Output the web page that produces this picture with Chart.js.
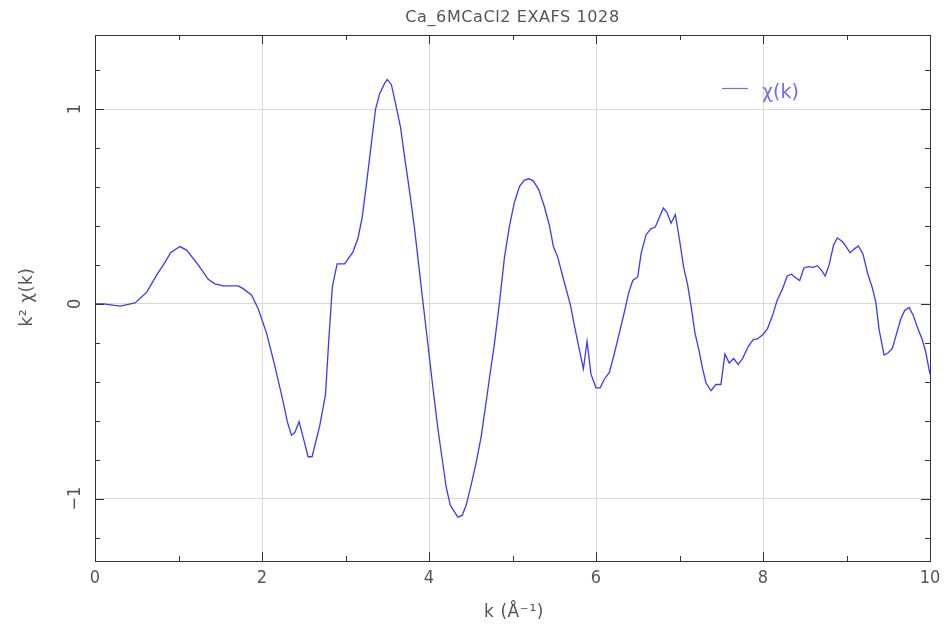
<!DOCTYPE html>
<html><head><meta charset="utf-8">
<script src="https://cdn.jsdelivr.net/npm/chart.js@4/dist/chart.umd.min.js"></script>
<style>html,body{margin:0;padding:0;background:#fff}#wrap{width:944px;height:631px}</style>
</head><body><div id="wrap"><canvas id="c" width="944" height="631"></canvas></div>
<script>
const chartTitle = "Ca_6MCaCl2 EXAFS 1028";
const xTitle = "k (Å⁻¹)";
const yTitle = "k² χ(k)";
const seriesLabel = "χ(k)";
const xTickValues = [0, 2, 4, 6, 8, 10];
const yTickValues = [-1, 0, 1];
const kValues = [0,0.1,0.3,0.48,0.62,0.74,0.84,0.905,1.017,1.097,1.236,1.356,1.435,1.535,1.714,1.774,1.874,1.954,2.054,2.153,2.253,2.305,2.353,2.393,2.444,2.5,2.552,2.6,2.691,2.76,2.80,2.843,2.90,2.99,3.09,3.15,3.20,3.25,3.31,3.36,3.41,3.47,3.50,3.55,3.60,3.66,3.708,3.768,3.828,3.88,3.93,3.99,4.047,4.107,4.16,4.207,4.255,4.305,4.346,4.397,4.446,4.506,4.566,4.626,4.685,4.725,4.785,4.845,4.904,4.964,5.024,5.084,5.144,5.196,5.251,5.315,5.383,5.443,5.49,5.542,5.60,5.65,5.694,5.742,5.793,5.849,5.893,5.94,6.0,6.05,6.10,6.16,6.22,6.28,6.34,6.39,6.44,6.50,6.54,6.60,6.66,6.71,6.76,6.806,6.85,6.898,6.95,7.0,7.05,7.097,7.137,7.185,7.237,7.277,7.317,7.377,7.437,7.496,7.544,7.596,7.648,7.703,7.755,7.823,7.883,7.934,8.0,8.054,8.114,8.17,8.23,8.29,8.34,8.39,8.44,8.49,8.545,8.60,8.65,8.70,8.744,8.79,8.845,8.89,8.95,8.99,9.043,9.09,9.143,9.198,9.25,9.31,9.35,9.39,9.45,9.50,9.55,9.597,9.65,9.697,9.75,9.80,9.85,9.908,9.948,10.0];
const chiValues = [0,0,-0.012,0.005,0.06,0.149,0.214,0.263,0.294,0.276,0.2,0.126,0.103,0.092,0.092,0.078,0.046,-0.025,-0.149,-0.317,-0.502,-0.608,-0.674,-0.661,-0.605,-0.697,-0.785,-0.785,-0.626,-0.467,-0.184,0.09,0.205,0.205,0.267,0.338,0.444,0.612,0.824,1.0,1.08,1.133,1.151,1.125,1.027,0.904,0.753,0.576,0.382,0.187,0,-0.219,-0.431,-0.643,-0.803,-0.944,-1.033,-1.068,-1.095,-1.086,-1.033,-0.927,-0.812,-0.679,-0.502,-0.378,-0.2,0.01,0.24,0.4,0.523,0.603,0.635,0.642,0.63,0.585,0.497,0.4,0.294,0.24,0.143,0.064,-0.007,-0.113,-0.219,-0.334,-0.193,-0.361,-0.431,-0.431,-0.387,-0.352,-0.255,-0.149,-0.042,0.055,0.12,0.138,0.258,0.355,0.386,0.394,0.444,0.492,0.47,0.414,0.458,0.329,0.187,0.099,-0.007,-0.149,-0.246,-0.334,-0.405,-0.446,-0.414,-0.414,-0.258,-0.304,-0.281,-0.311,-0.281,-0.219,-0.184,-0.18,-0.157,-0.127,-0.06,0.019,0.073,0.143,0.152,0.134,0.12,0.184,0.191,0.187,0.196,0.173,0.143,0.196,0.302,0.338,0.32,0.297,0.262,0.281,0.297,0.255,0.161,0.081,0.011,-0.131,-0.263,-0.251,-0.228,-0.157,-0.078,-0.034,-0.018,-0.06,-0.122,-0.184,-0.246,-0.361];

const TICKFONT = "'DejaVu Sans Condensed','DejaVu Sans',sans-serif";
const FONT = "'DejaVu Sans',sans-serif";
const TXT = '#555';
const fmt = v => v < 0 ? '−' + Math.abs(v) : String(v);

const decor = {
  id: 'decor',
  afterDraw(chart) {
    const {ctx, chartArea: a, scales: {x, y}} = chart;
    ctx.save();
    ctx.strokeStyle = '#333'; ctx.lineWidth = 1;
    ctx.strokeRect(Math.round(a.left)+0.5, Math.round(a.top)+0.5, Math.round(a.right-a.left), Math.round(a.bottom-a.top));
    for (let v = 0; v <= 10; v += 1) {
      const px = Math.round(x.getPixelForValue(v)) + 0.5;
      const len = (v % 2 === 0) ? 9 : 5;
      ctx.beginPath();
      ctx.moveTo(px, a.bottom); ctx.lineTo(px, a.bottom - len);
      ctx.moveTo(px, a.top); ctx.lineTo(px, a.top + len);
      ctx.stroke();
    }
    for (let i = -6; i <= 6; i++) {
      const v = i * 0.2;
      const py = Math.round(y.getPixelForValue(v)) + 0.5;
      const len = (i % 5 === 0) ? 9 : 5;
      ctx.beginPath();
      ctx.moveTo(a.left, py); ctx.lineTo(a.left + len, py);
      ctx.moveTo(a.right, py); ctx.lineTo(a.right - len, py);
      ctx.stroke();
    }
    // rotated y tick labels, placed through the y scale
    ctx.fillStyle = TXT;
    ctx.font = "18px " + TICKFONT;
    ctx.textAlign = 'center'; ctx.textBaseline = 'middle';
    y.ticks.forEach(t => {
      ctx.save();
      ctx.translate(75, y.getPixelForValue(t.value));
      ctx.rotate(-Math.PI / 2);
      ctx.fillText(fmt(t.value), 0, 0);
      ctx.restore();
    });
    ctx.font = "16px " + FONT;
    ctx.letterSpacing = "0.6px";
    ctx.fillText(chartTitle, (a.left + a.right) / 2, 18);
    ctx.font = "17px " + FONT;
    ctx.fillText(xTitle, 514, 613);
    ctx.save();
    ctx.translate(28, 297);
    ctx.rotate(-Math.PI / 2);
    ctx.fillText(yTitle, 0, 0);
    ctx.restore();
    ctx.letterSpacing = "0px";
    ctx.strokeStyle = '#7070ff'; ctx.lineWidth = 1.2;
    ctx.beginPath(); ctx.moveTo(722, 88.5); ctx.lineTo(748, 88.5); ctx.stroke();
    ctx.fillStyle = '#6a6aff';
    ctx.textAlign = 'left';
    ctx.font = "19px " + FONT;
    ctx.fillText(seriesLabel, 762, 93);
    ctx.restore();
  }
};

const points = kValues.map((k, i) => ({x: k, y: chiValues[i]}));

new Chart(document.getElementById('c'), {
  type: 'scatter',
  data: { datasets: [{
    label: seriesLabel, data: points, showLine: true,
    borderColor: '#3a3aff', borderWidth: 1.3, pointRadius: 0, tension: 0, fill: false
  }]},
  options: {
    responsive: false, animation: false, devicePixelRatio: 1,
    layout: { padding: { top: 35, right: 0, left: 0, bottom: 0 } },
    plugins: { legend: { display: false }, title: { display: false }, tooltip: { enabled: false } },
    scales: {
      x: {
        type: 'linear', min: 0, max: 10,
        afterBuildTicks(s) { s.ticks = xTickValues.map(v => ({value: v})); },
        afterFit(s) { s.height = 70; s.paddingRight = 14; s.paddingLeft = 0; },
        grid: { color: '#d8d8d8', drawTicks: false, lineWidth: 1 },
        border: { display: false },
        ticks: { color: TXT, font: { family: TICKFONT, size: 18 }, padding: 7, maxRotation: 0 }
      },
      y: {
        type: 'linear', min: -1.32, max: 1.38,
        afterBuildTicks(s) { s.ticks = yTickValues.map(v => ({value: v})); },
        afterFit(s) { s.width = 95; s.paddingTop = 0; s.paddingBottom = 0; },
        grid: { color: '#d8d8d8', drawTicks: false, lineWidth: 1 },
        border: { display: false },
        ticks: { display: false }
      }
    }
  },
  plugins: [decor]
});
</script>
</body></html>
